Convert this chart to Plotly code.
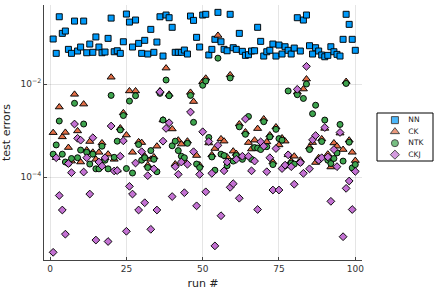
import plotly.graph_objects as go

runs = list(range(1, 101))

nn = [0.093, 0.0457, 0.280, 0.123, 0.138, 0.0557, 0.0457, 0.226, 0.0513, 0.0625,
      0.226, 0.0471, 0.0725, 0.0481, 0.103, 0.0625, 0.0471, 0.0488, 0.096, 0.262,
      0.0495, 0.052, 0.0457, 0.0812, 0.320, 0.215, 0.0625, 0.238, 0.075, 0.0457,
      0.0871, 0.0442, 0.150, 0.0481, 0.080, 0.280, 0.040, 0.305, 0.267, 0.166,
      0.0481, 0.0481, 0.0481, 0.0538, 0.0442, 0.290, 0.234, 0.101, 0.0625, 0.305,
      0.316, 0.0421, 0.0557, 0.0915, 0.348, 0.0812, 0.0557, 0.052, 0.316, 0.0604,
      0.0557, 0.123, 0.0505, 0.0414, 0.0427, 0.0513, 0.052, 0.166, 0.0828, 0.040,
      0.0495, 0.0531, 0.0725, 0.040, 0.069, 0.0442, 0.0634, 0.0531, 0.0442, 0.0594,
      0.267, 0.0513, 0.238, 0.305, 0.0667, 0.0442, 0.0604, 0.0513, 0.0421, 0.0386,
      0.0414, 0.0634, 0.0495, 0.0435, 0.040, 0.0915, 0.316, 0.192, 0.0915, 0.0531]

ck = [9.0e-4, 2.6e-4, 3.2e-3, 7.3e-4, 9.1e-4, 4.3e-4, 2.2e-4, 6.0e-3, 9.8e-4, 2.1e-4,
      3.7e-3, 3.8e-4, 5.8e-4, 3.4e-4, 2.4e-4, 3.4e-4, 5.4e-4, 2.6e-4, 3.1e-4, 1.4e-2,
      2.4e-4, 1.4e-4, 1.13e-3, 2.4e-3, 8.0e-4, 7.1e-3, 3.4e-4, 7.1e-3, 5.7e-4, 5.5e-4,
      2.8e-4, 1.8e-4, 2.4e-4, 2.7e-4, 4.6e-4, 7.1e-3, 1.68e-3, 2.2e-2, 6.0e-3, 1.08e-3,
      1.9e-4, 6.2e-4, 5.1e-4, 2.2e-4, 5.9e-4, 6.6e-3, 4.2e-3, 2.9e-4, 1.8e-4, 1.12e-2,
      1.33e-2, 5.4e-4, 3.0e-4, 4.1e-4, 0.111, 6.6e-4, 5.9e-4, 2.7e-4, 1.57e-2, 3.6e-4,
      3.2e-4, 1.38e-3, 2.7e-4, 9.3e-4, 5.5e-4, 4.0e-4, 6.2e-4, 1.1e-3, 4.4e-4, 1.77e-3,
      5.7e-4, 8.0e-4, 2.1e-4, 1.19e-3, 4.9e-4, 6.9e-4, 5.9e-4, 3.0e-4, 2.2e-4, 2.8e-4,
      6.7e-3, 2.3e-4, 7.8e-3, 1.28e-2, 4.4e-4, 5.5e-4, 2.05e-4, 2.6e-4, 6.6e-4, 1.11e-3,
      3.1e-4, 1.64e-4, 5.4e-4, 4.6e-4, 8.8e-4, 3.9e-4, 1.13e-2, 6.2e-4, 3.4e-4, 2.26e-4]

ntk = [3.1e-4, 4.9e-4, 1.6e-3, 3.1e-4, 2.1e-4, 1.95e-4, 2.5e-4, 3.85e-3, 2.6e-4, 3.8e-4,
       1.38e-3, 3.4e-4, 1.9e-4, 3.1e-4, 1.5e-4, 1.5e-4, 4.6e-4, 2.3e-4, 1.5e-4, 5.7e-3,
       2.65e-4, 5.9e-4, 1.03e-3, 2.1e-3, 1.52e-4, 4.3e-3, 1.22e-4, 5.6e-3, 5.0e-4, 2.3e-4,
       2.6e-4, 1.6e-4, 3.7e-4, 2.4e-4, 1.3e-4, 6.3e-3, 1.68e-3, 1.22e-2, 5.6e-3, 4.7e-4,
       5.9e-4, 3.7e-4, 2.8e-4, 2.6e-4, 5.3e-4, 5.7e-3, 1.5e-3, 1.9e-4, 1.6e-4, 9.4e-3,
       1.16e-2, 7.1e-4, 2.7e-4, 1.4e-4, 3.6e-2, 3.1e-4, 2.9e-4, 1.75e-4, 1.35e-2, 2.2e-4,
       2.9e-4, 1.2e-3, 2.4e-4, 8.3e-4, 2.0e-3, 2.4e-4, 4.3e-4, 4.2e-4, 3.9e-4, 1.55e-3,
       4.5e-4, 7.3e-4, 1.85e-4, 1.06e-3, 6.7e-4, 6.2e-4, 1.75e-4, 7.1e-3, 2.0e-4, 1.9e-4,
       5.9e-3, 2.05e-4, 4.9e-3, 1.0e-2, 3.9e-4, 2.3e-3, 3.5e-3, 2.3e-4, 5.8e-4, 1.68e-3,
       2.3e-4, 1.95e-4, 2.5e-4, 3.3e-4, 1.35e-3, 2.2e-4, 1.03e-2, 5.6e-4, 1.57e-4, 1.85e-4]

ckj = [2.4e-6, 2.6e-4, 4.0e-5, 1.95e-5, 5.9e-6, 1.95e-4, 1.24e-4, 1.38e-3, 6.8e-4, 6.2e-4,
       1.28e-4, 2.6e-4, 4.3e-5, 7.0e-4, 4.4e-6, 2.1e-4, 1.72e-4, 2.6e-4, 4.1e-6, 1.25e-3,
       1.35e-4, 1.37e-4, 2.8e-4, 6.0e-4, 6.8e-6, 6.3e-5, 4.3e-5, 2.0e-4, 1.95e-5, 3.5e-4,
       2.8e-5, 1.07e-4, 7.5e-6, 1.5e-4, 1.95e-5, 6.8e-3, 5.9e-4, 1.11e-3, 1.47e-3, 3.8e-5,
       1.67e-4, 1.14e-4, 2.1e-4, 4.6e-5, 1.88e-4, 2.5e-3, 3.5e-4, 2.4e-5, 1.14e-4, 9.4e-4,
       4.8e-5, 5.8e-4, 1.2e-4, 3.3e-6, 4.8e-4, 1.47e-5, 1.36e-4, 2.1e-4, 6.0e-5, 7.2e-5,
       2.4e-4, 3.5e-5, 2.8e-4, 1.77e-3, 2.8e-4, 1.36e-4, 2.2e-4, 2.0e-5, 5.7e-4, 4.6e-4,
       1.3e-4, 2.6e-4, 5.25e-5, 4.1e-4, 5.25e-5, 1.52e-4, 1.8e-4, 3.0e-4, 1.67e-4, 7.0e-5,
       7.7e-3, 2.05e-4, 1.2e-4, 2.4e-2, 1.5e-4, 6.3e-4, 7.8e-4, 2.3e-4, 2.6e-4, 1.16e-3,
       2.7e-4, 3.0e-5, 3.9e-4, 1.67e-4, 9.1e-4, 5.2e-6, 5.7e-5, 8.2e-5, 2.0e-5, 1.32e-4]

names = ["NN", "CK", "NTK", "CKJ"]
values = [nn, ck, ntk, ckj]
symbols = ["square", "triangle-up", "circle", "diamond"]
colors = ["#009AFA", "#E36F47", "#3EA44E", "#C371D2"]
sizes = [6, 7, 6, 6]

x_ticks = [0, 25, 50, 75, 100]
y_ticks = [1e-4, 1e-2]
y_ticktext = ["10<sup>−4</sup>", "10<sup>−2</sup>"]

FONT = "DejaVu Sans"
W, H = 438, 290
# plot area in pixels
PL, PR, PT, PB = 44, 362, 5, 260
# legend box in pixels
LL, LR, LT, LB = 377, 433, 113, 161

fig = go.Figure()
for name, vals, sym, col, sz in zip(names, values, symbols, colors, sizes):
    fig.add_trace(go.Scatter(
        x=runs, y=vals, mode="markers", name=name, showlegend=False,
        marker=dict(symbol=sym, color=col, size=sz,
                    line=dict(color="rgba(0,0,0,0.95)", width=1)),
    ))

# custom compact legend on its own hidden axes
leg_rows = list(range(len(names)))
fig.add_trace(go.Scatter(
    x=[0.32] * len(names), y=leg_rows, mode="markers", showlegend=False,
    xaxis="x2", yaxis="y2", hoverinfo="skip",
    marker=dict(symbol=symbols, color=colors, size=[7, 8, 7, 7],
                line=dict(color="black", width=1)),
))
fig.add_trace(go.Scatter(
    x=[0.56] * len(names), y=leg_rows, mode="text", text=names,
    textposition="middle right", showlegend=False,
    xaxis="x2", yaxis="y2", hoverinfo="skip",
    textfont=dict(family=FONT, size=7.5, color="#222"),
))

fig.add_shape(type="rect", xref="paper", yref="paper",
              x0=LL / W, x1=LR / W, y0=1 - LB / H, y1=1 - LT / H,
              line=dict(color="black", width=1), fillcolor="white", layer="below")

fig.update_layout(
    width=W, height=H, autosize=False,
    margin=dict(l=0, r=0, t=0, b=0, pad=0),
    paper_bgcolor="white", plot_bgcolor="white",
    font=dict(family=FONT, size=9, color="#222"),
    showlegend=False,
    xaxis=dict(domain=[PL / W, PR / W], range=[-2.0, 102.2], tickvals=x_ticks,
               automargin=False,
               ticks="inside", ticklen=3, tickcolor="#444",
               showgrid=True, gridcolor="rgba(0,0,0,0.1)", gridwidth=1,
               showline=True, linecolor="#444", linewidth=1, mirror=False,
               zeroline=False,
               title=dict(text="run #", font=dict(size=11, family=FONT)),
               tickfont=dict(size=9, color="#333")),
    yaxis=dict(domain=[1 - PB / H, 1 - PT / H], type="log", range=[-5.785, -0.30],
               tickvals=y_ticks, ticktext=y_ticktext, automargin=False,
               ticks="inside", ticklen=3, tickcolor="#444",
               showgrid=True, gridcolor="rgba(0,0,0,0.1)", gridwidth=1,
               showline=True, linecolor="#444", linewidth=1, mirror=False,
               zeroline=False,
               title=dict(text="test errors", font=dict(size=11, family=FONT)),
               tickfont=dict(size=9, color="#333")),
    xaxis2=dict(domain=[LL / W, LR / W], range=[0, 1], visible=False,
                anchor="y2", fixedrange=True),
    yaxis2=dict(domain=[1 - LB / H, 1 - LT / H], range=[3.55, -0.62], visible=False,
                anchor="x2", fixedrange=True),
)

fig.write_html("out.html", config={"displayModeBar": False},
               post_script="document.body.style.margin='0';")
